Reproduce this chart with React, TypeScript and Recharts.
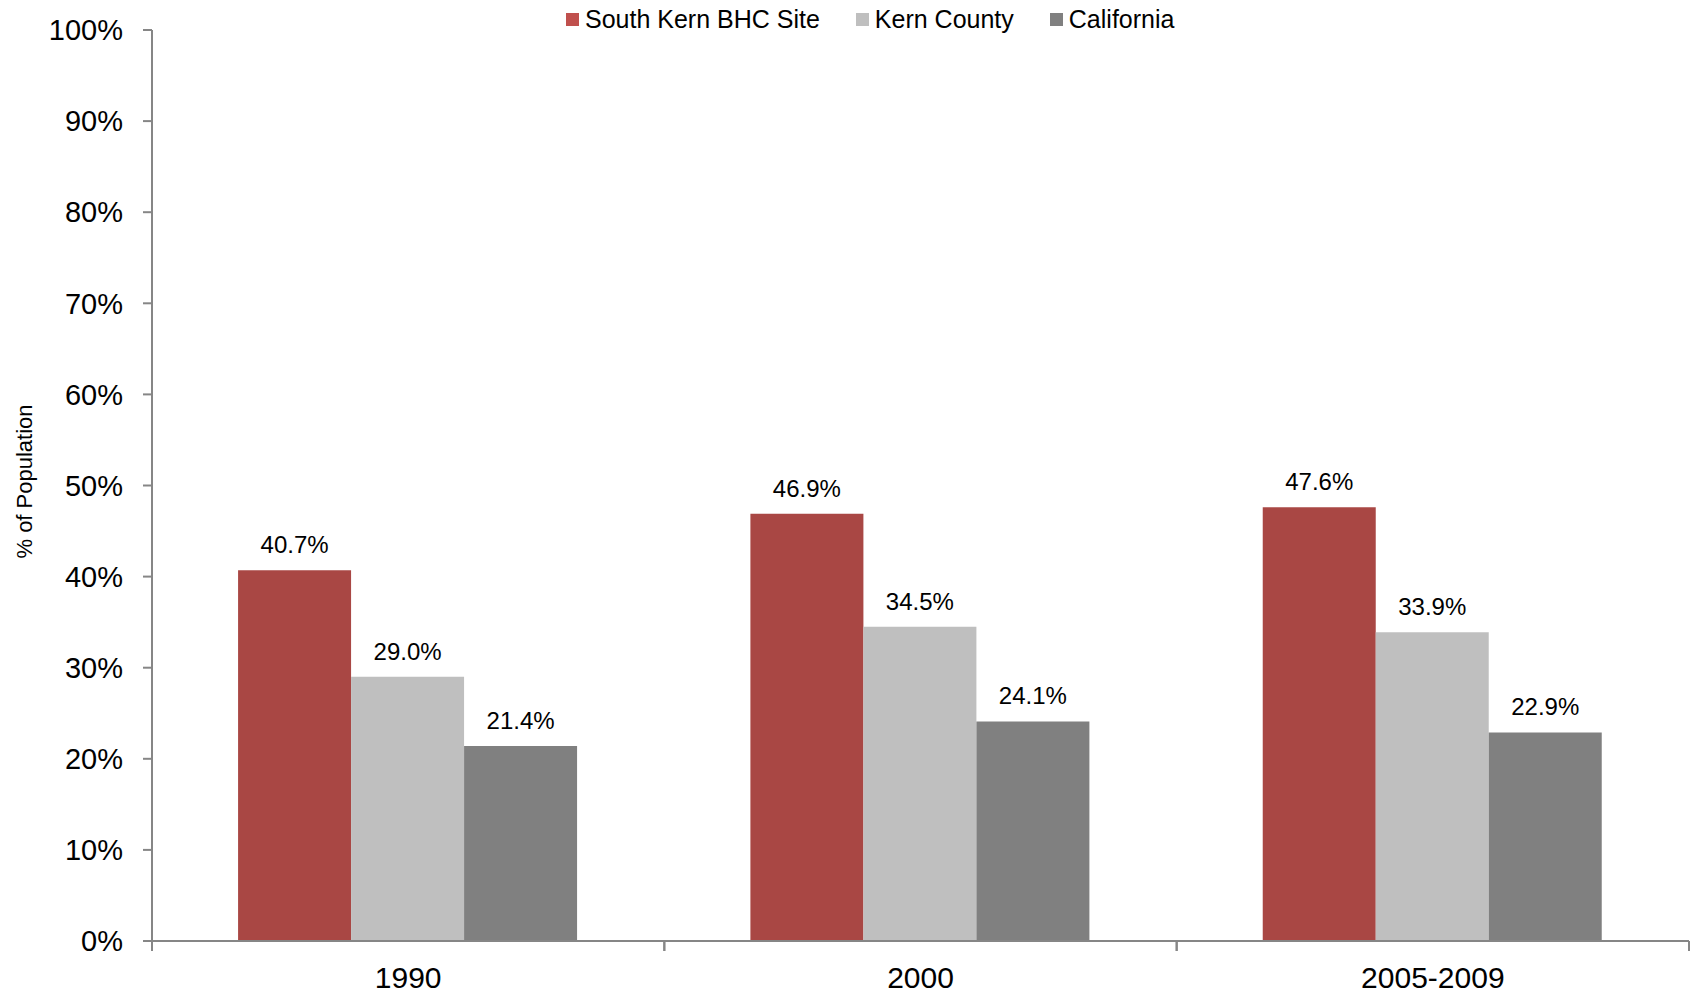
import React from "react";
import {
  Bar,
  BarChart,
  LabelList,
  Legend,
  XAxis,
  YAxis,
} from "recharts";

const periods = ["1990", "2000", "2005-2009"];
const southKern = [40.7, 46.9, 47.6];
const kernCounty = [29.0, 34.5, 33.9];
const california = [21.4, 24.1, 22.9];
const yTicks = [0, 10, 20, 30, 40, 50, 60, 70, 80, 90, 100];

const series = [
  { key: "south", name: "South Kern BHC Site", color: "#A94744", legend: "#C0504D" },
  { key: "kern", name: "Kern County", color: "#BFBFBF", legend: "#BFBFBF" },
  { key: "ca", name: "California", color: "#808080", legend: "#808080" },
];

const data = periods.map((p, i) => ({
  period: p,
  south: southKern[i],
  kern: kernCounty[i],
  ca: california[i],
}));

const FONT = "'Liberation Sans', Arial, sans-serif";
const AXIS = "#868686";
const LABEL_GAP = 26;

const LegendBox = () => (
  <div style={{ display: "flex", alignItems: "center", height: 26, fontFamily: FONT, fontSize: 25, color: "#000" }}>
    {series.map((s, i) => (
      <div key={s.key} style={{ display: "flex", alignItems: "center", marginRight: i < series.length - 1 ? 36 : 0 }}>
        <span style={{ width: 13, height: 13, background: s.legend, marginRight: 6, display: "inline-block" }} />
        <span>{s.name}</span>
      </div>
    ))}
  </div>
);

const YLabel = ({ viewBox }: any) => {
  const x = viewBox.x + 24;
  const y = viewBox.y + viewBox.height / 2 - 4;
  return (
    <text
      x={x}
      y={y}
      transform={`rotate(-90, ${x}, ${y})`}
      textAnchor="middle"
      dominantBaseline="central"
      fontFamily={FONT}
      fontSize={22}
      fill="#000"
    >
      % of Population
    </text>
  );
};

// category label plus tick marks at the band edges (like Excel's "between categories")
const PeriodTick = ({ x, y, payload }: any) => {
  const half = payload.offset || 0;
  const axisY = y - LABEL_GAP;
  return (
    <g>
      <line x1={x - half} x2={x - half} y1={axisY} y2={axisY + 10} stroke={AXIS} strokeWidth={2} />
      <line x1={x + half} x2={x + half} y1={axisY} y2={axisY + 10} stroke={AXIS} strokeWidth={2} />
      <text x={x} y={y} dy="0.71em" textAnchor="middle" fontFamily={FONT} fontSize={30} fill="#000">
        {payload.value}
      </text>
    </g>
  );
};

export default function App() {
  return (
    <div style={{ position: "absolute", left: 0, top: 0, background: "#fff" }}>
      <BarChart
        width={1692}
        height={995}
        data={data}
        margin={{ top: 4, right: 3, bottom: 0, left: 0 }}
        barCategoryGap="16.8%"
        barGap={0}
      >
        <Legend
          verticalAlign="top"
          align="left"
          content={<LegendBox />}
          wrapperStyle={{ left: 566, top: 6, width: "auto" }}
        />
        <XAxis
          dataKey="period"
          height={54}
          axisLine={{ stroke: AXIS, strokeWidth: 2 }}
          tickLine={false}
          tickSize={0}
          tickMargin={LABEL_GAP}
          tick={<PeriodTick />}
        />
        <YAxis
          width={152}
          domain={[0, 100]}
          ticks={yTicks}
          interval={0}
          tickFormatter={(v: number) => `${v}%`}
          axisLine={{ stroke: AXIS, strokeWidth: 2 }}
          tickLine={{ stroke: AXIS, strokeWidth: 2 }}
          tickSize={9}
          tickMargin={20}
          tick={{ fill: "#000", fontFamily: FONT, fontSize: 29 }}
          label={<YLabel />}
        />
        {series.map((s) => (
          <Bar key={s.key} dataKey={s.key} name={s.name} fill={s.color} isAnimationActive={false}>
            <LabelList
              dataKey={s.key}
              position="top"
              offset={17}
              formatter={(v: any) => `${Number(v).toFixed(1)}%`}
              style={{ fill: "#000", fontFamily: FONT, fontSize: 24 }}
            />
          </Bar>
        ))}
      </BarChart>
    </div>
  );
}
